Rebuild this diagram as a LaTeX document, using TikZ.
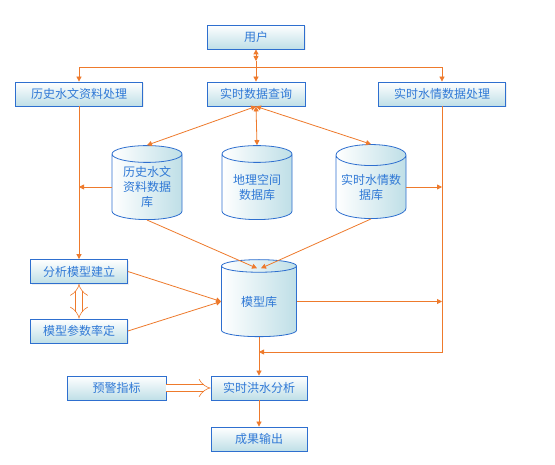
\documentclass[tikz,border=0pt]{standalone}
\usepackage{fontspec}
\setmainfont{Noto Sans CJK SC}
\usetikzlibrary{arrows.meta,positioning,shapes.geometric,shadows}
\definecolor{flow}{HTML}{EE7A2C}
\definecolor{edge}{HTML}{2E6FCF}
\definecolor{ink}{HTML}{3079D6}
\definecolor{mist}{HTML}{BFDFE7}

\begin{document}
\begin{tikzpicture}[x=1pt,y=-1pt,font=\fontsize{12}{15}\selectfont,
   box/.style={draw=edge,line width=0.8pt,top color=white,bottom color=mist,
               text=ink,minimum height=24pt,inner sep=0pt,
               drop shadow={opacity=0.12,shadow xshift=1.2pt,shadow yshift=-1.2pt}},
   db/.style={cylinder,shape border rotate=90,aspect=0.35,draw=edge,line width=0.8pt,
              left color=white,right color=mist,text=ink,align=center,
              minimum width=70pt,minimum height=74pt,inner sep=0pt},
   link/.style={draw=flow,line width=0.8pt,-{Triangle[length=5pt,width=5pt]}},
   both/.style={link,{Triangle[length=5pt,width=5pt]}-{Triangle[length=5pt,width=5pt]}},
   hollow/.style={draw=flow,line width=0.6pt,double=white,double distance=6pt}]
  \fill[white] (0,0) rectangle (555,465);
  \useasboundingbox (0,0) rectangle (555,465);

  % top row
  \node[box,minimum width=97pt] (user) at (256,37) {用户};
  \node[box,minimum width=127pt] (hist) at (79,94) {历史水文资料处理};
  \node[box,minimum width=98pt] (query) at (256,94) {实时数据查询};
  \node[box,minimum width=127pt] (live) at (442,94) {实时水情数据处理};

  % databases
  \node[db] (histdb) at (147,187) {历史水文\\资料数据\\库};
  \node[db] (geodb) at (257,187) {地理空间\\数据库};
  \node[db] (livedb) at (371,187) {实时水情数\\据库};
  \node[db,minimum width=75pt,minimum height=77pt] (modeldb) at (259,301.5) {模型库};

  % model side and output
  \node[box,minimum width=97pt] (build) at (79,271.5) {分析模型建立};
  \node[box,minimum width=97pt] (calib) at (79,331) {模型参数率定};
  \node[box,minimum width=99pt] (warn) at (116.5,388) {预警指标};
  \node[box,minimum width=96pt] (flood) at (259,388) {实时洪水分析};
  \node[box,minimum width=96pt] (out) at (259,439) {成果输出};

  \coordinate (uj) at (256,61);
  \coordinate (jn) at (256,67);
  \coordinate (back) at (442,352);

  % user fan-out
  \draw[both] (user) -- (uj);
  \draw[link] (uj) -- (query);
  \draw[link] (jn) -| (hist);
  \draw[link] (jn) -| (live);

  % query to databases
  \draw[both] (query.south) -- (histdb.north);
  \draw[both] (query.south) -- (geodb.north);
  \draw[both] (query.south) -- (livedb.north);

  % side lines
  \draw[link] (hist) -- (build);
  \draw[link] (histdb.west) -- (histdb.west -| hist.south);
  \draw[link] (livedb.east) -- (livedb.east -| live.south);
  \draw[link] (modeldb.east) -- (modeldb.east -| back);
  \draw[link] (live.south) -- (back) -- (back -| modeldb.south);

  % into the model base
  \draw[link] (histdb.south) -- ([xshift=-2pt,yshift=-9pt]modeldb.north);
  \draw[link] (livedb.south) -- ([xshift=2pt,yshift=-9pt]modeldb.north);
  \draw[link] (build.east) -- (modeldb.west);
  \draw[link] (calib.east) -- (modeldb.west);
  \draw[hollow,{Implies}-{Implies}] (build) -- (calib);

  % analysis
  \draw[link] (modeldb) -- (flood);
  \draw[hollow,-Implies] (warn) -- (flood);
  \draw[link] (flood) -- (out);
\end{tikzpicture}
\end{document}
